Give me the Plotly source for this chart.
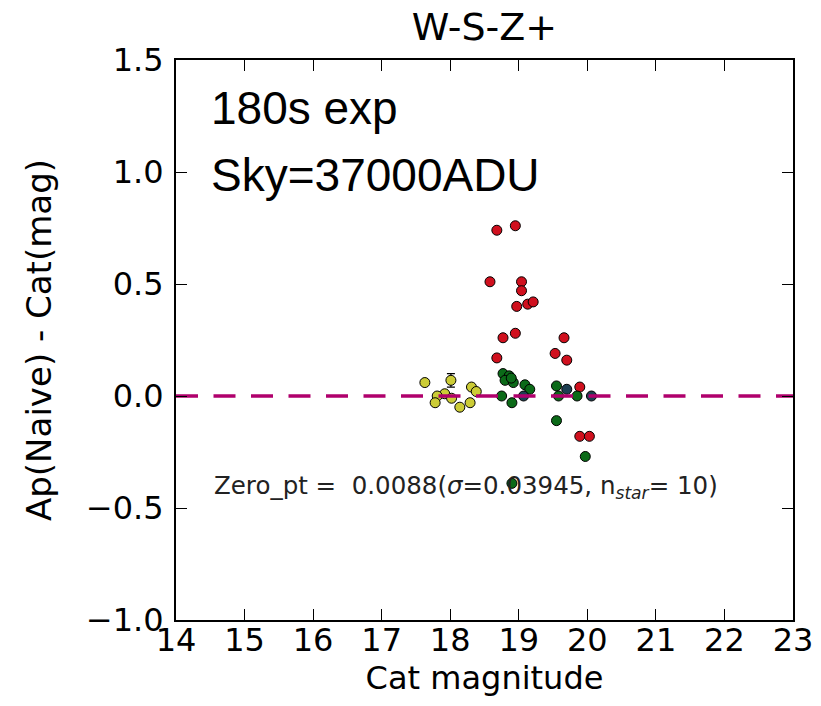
import plotly.graph_objects as go

# ---- data ----
red_x = [18.68, 18.95, 18.58, 19.04, 19.04, 18.97, 19.13, 19.21, 18.77, 18.95,
         19.66, 18.68, 19.53, 19.70, 19.89, 19.89, 20.03]
red_y = [0.74, 0.76, 0.51, 0.51, 0.47, 0.40, 0.41, 0.42, 0.26, 0.28,
         0.26, 0.17, 0.19, 0.16, 0.04, -0.18, -0.18]

green_x = [18.77, 18.86, 18.80, 18.92, 18.89, 19.09, 19.16, 18.75, 18.90,
           19.55, 19.58, 19.85, 19.55, 19.97, 18.90]
green_y = [0.10, 0.09, 0.07, 0.06, 0.08, 0.05, 0.03, 0.00, -0.03,
           0.045, 0.00, 0.00, -0.11, -0.27, -0.39]

dark_x = [19.07, 19.70, 20.06]
dark_y = [0.00, 0.03, 0.00]

yellow_x = [17.63, 18.01, 17.92, 17.81, 17.78, 18.02, 18.14, 18.29, 18.31, 18.38]
yellow_y = [0.06, 0.07, 0.01, 0.00, -0.03, -0.01, -0.05, -0.03, 0.04, 0.02]
yellow_err = [0, 0.03, 0, 0, 0, 0, 0, 0, 0, 0]

zero_line_x = [14.0, 23.0]
zero_line_y = [0.0, 0.0]

x_ticks = [14, 15, 16, 17, 18, 19, 20, 21, 22, 23]
y_ticks = [-1.0, -0.5, 0.0, 0.5, 1.0, 1.5]
y_tick_text = ["\u22121.0", "\u22120.5", "0.0", "0.5", "1.0", "1.5"]

title_text = "W-S-Z+"
x_title = "Cat magnitude"
y_title = "Ap(Naive) - Cat(mag)"
note1 = "180s exp"
note2 = "Sky=37000ADU"
zero_text = "Zero_pt =  0.0088(<i>\u03c3</i>=0.03945, n<sub><i>star</i></sub>= 10)"

FONT = "DejaVu Sans"

fig = go.Figure()

def marker(color):
    return dict(size=10, color=color, line=dict(color="black", width=1))

fig.add_trace(go.Scatter(x=yellow_x, y=yellow_y, mode="markers",
                         marker=marker("#cccc36"),
                         error_y=dict(type="data", array=yellow_err, color="black",
                                      thickness=1.2, width=4),
                         showlegend=False))
fig.add_trace(go.Scatter(x=red_x, y=red_y, mode="markers",
                         marker=marker("#d0101e"), showlegend=False))
fig.add_trace(go.Scatter(x=green_x, y=green_y, mode="markers",
                         marker=marker("#0b6a18"), showlegend=False))
fig.add_trace(go.Scatter(x=dark_x, y=dark_y, mode="markers",
                         marker=marker("#1d3f52"), showlegend=False))
fig.add_trace(go.Scatter(x=zero_line_x, y=zero_line_y, mode="lines",
                         line=dict(color="#b0006c", width=3.5, dash="22px,15.5px"),
                         showlegend=False, hoverinfo="skip"))

axis_common = dict(
    showline=True, linecolor="black", linewidth=2, mirror="ticks",
    ticks="inside", ticklen=11, tickwidth=1.2, tickcolor="black",
    showgrid=False, zeroline=False,
    tickfont=dict(family=FONT, size=32, color="black"),
)

fig.update_xaxes(range=[14, 23], tickvals=x_ticks, ticktext=[str(v) for v in x_ticks],
                 ticklabelstandoff=-9,
                 title=dict(text=x_title, font=dict(family=FONT, size=32, color="black"),
                            standoff=8),
                 **axis_common)
fig.update_yaxes(range=[-1.0, 1.5], tickvals=y_ticks, ticktext=y_tick_text,
                 ticklabelstandoff=4,
                 title=dict(text=y_title, font=dict(family=FONT, size=34, color="black"),
                            standoff=24),
                 **axis_common)

fig.add_annotation(x=14.48, y=1.285, xref="x", yref="y", text=note1, showarrow=False,
                   xanchor="left", yanchor="middle",
                   font=dict(family="Liberation Sans", size=46, color="black"))
fig.add_annotation(x=14.48, y=0.985, xref="x", yref="y", text=note2, showarrow=False,
                   xanchor="left", yanchor="middle",
                   font=dict(family="Liberation Sans", size=46, color="black"))
fig.add_annotation(x=14.52, y=-0.405, xref="x", yref="y", text=zero_text, showarrow=False,
                   xanchor="left", yanchor="middle",
                   font=dict(family=FONT, size=24.5, color="#222222"))

fig.update_layout(
    width=821, height=706,
    margin=dict(l=176, r=28, t=60, b=86, autoexpand=False),
    paper_bgcolor="white", plot_bgcolor="white",
    title=dict(text=title_text, x=0.59, xanchor="center", y=0.962, yanchor="middle",
               font=dict(family=FONT, size=38, color="black")),
)

fig.write_html("out.html")
